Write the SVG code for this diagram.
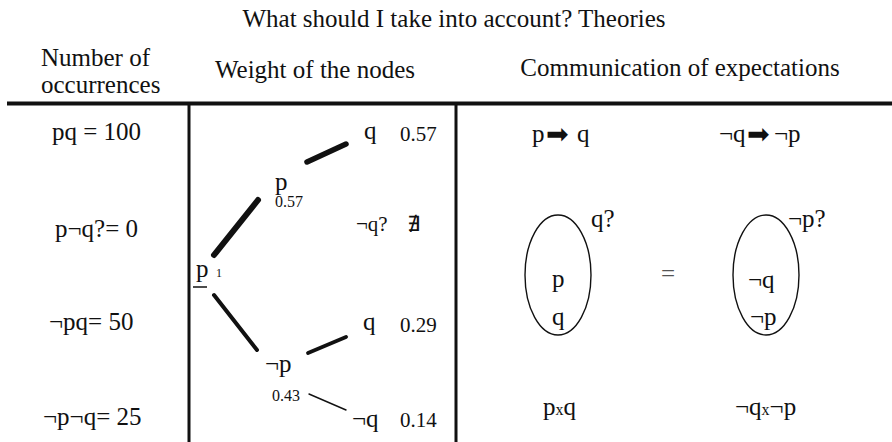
<svg xmlns="http://www.w3.org/2000/svg" width="892" height="442" viewBox="0 0 892 442">
<style>
text{font-family:"Liberation Serif","Times New Roman",serif;fill:#111;}
.h{font-size:25px;}
.t{font-size:25px;}
.w{font-size:21px;}
.s{font-size:16px;}
.xs{font-size:12px;}
.arr{font-family:"DejaVu Sans",sans-serif;font-size:27px;}
.grid{stroke:#111;fill:none;}
.edge{stroke:#111;stroke-linecap:round;fill:none;}
.oval{stroke:#111;stroke-width:1.4;fill:none;}
</style>
<rect width="892" height="442" fill="#fff"/>
<g id="title"><text class="h" x="454" y="27" text-anchor="middle">What should I take into account? Theories</text></g>
<g id="headers">
<text class="h" x="41" y="66">Number of</text>
<text class="h" x="41" y="93">occurrences</text>
<text class="h" x="315" y="78" text-anchor="middle">Weight of the nodes</text>
<text class="h" x="680" y="76" text-anchor="middle">Communication of expectations</text>
</g>
<g id="table">
<line class="grid" x1="7" y1="103.5" x2="892" y2="103.5" stroke-width="4"/>
<line class="grid" x1="189" y1="104" x2="189" y2="442" stroke-width="3"/>
<line class="grid" x1="456" y1="104" x2="456" y2="442" stroke-width="3"/>
</g>
<g id="occurrences">
<text class="t" x="52" y="140">pq = 100</text>
<text class="t" x="55" y="237">p¬q?= 0</text>
<text class="t" x="49" y="330">¬pq= 50</text>
<text class="t" x="43" y="425">¬p¬q= 25</text>
</g>
<g id="connectors">
<line class="edge" x1="214" y1="255" x2="258" y2="200" stroke-width="6"/>
<line class="edge" x1="307" y1="162" x2="346" y2="144" stroke-width="5.5"/>
<line class="edge" x1="214" y1="295" x2="257" y2="350" stroke-width="4"/>
<line class="edge" x1="308" y1="353" x2="346" y2="337" stroke-width="3.8"/>
<line class="edge" x1="309" y1="394" x2="346" y2="410" stroke-width="1.4"/>
</g>
<g id="node-root">
<text class="t" x="196" y="277">p</text>
<line x1="193" y1="287" x2="207" y2="287" stroke="#111" stroke-width="1.5"/>
<text class="xs" x="216" y="277">1</text>
</g>
<g id="node-p">
<text class="t" x="275" y="190">p</text>
<text class="s" x="275" y="207">0.57</text>
</g>
<g id="node-pq">
<text class="t" x="364" y="139">q</text>
<text class="w" x="400" y="141">0.57</text>
</g>
<g id="node-pnq">
<text class="w" x="356" y="231">¬q?</text>
<text class="w" x="407" y="231">∄</text>
</g>
<g id="node-np">
<text class="t" x="265" y="372">¬p</text>
<text class="s" x="272" y="401">0.43</text>
</g>
<g id="node-npq">
<text class="t" x="363" y="330">q</text>
<text class="w" x="400" y="332">0.29</text>
</g>
<g id="node-npnq">
<text class="t" x="352" y="427">¬q</text>
<text class="w" x="400" y="427">0.14</text>
</g>
<g id="expect-left">
<text class="t" x="532" y="142">p</text>
<text class="arr" x="546" y="143">➡</text>
<text class="t" x="577" y="142">q</text>
<ellipse class="oval" cx="558" cy="275" rx="33" ry="60"/>
<text class="t" x="591" y="227">q?</text>
<text class="t" x="552" y="287">p</text>
<text class="t" x="552" y="325">q</text>
<text x="543" y="415"><tspan class="t">p</tspan><tspan class="s">x</tspan><tspan class="t">q</tspan></text>
</g>
<g id="equals"><text class="t" x="661" y="282" style="fill:#555">=</text></g>
<g id="expect-right">
<text class="t" x="719" y="142">¬q</text>
<text class="arr" x="747" y="143">➡</text>
<text class="t" x="774" y="142">¬p</text>
<ellipse class="oval" cx="766" cy="275" rx="33" ry="60"/>
<text class="t" x="788" y="227">¬p?</text>
<text class="t" x="748" y="288">¬q</text>
<text class="t" x="750" y="325">¬p</text>
<text x="735" y="415"><tspan class="t">¬q</tspan><tspan class="s">x</tspan><tspan class="t">¬p</tspan></text>
</g>
</svg>
